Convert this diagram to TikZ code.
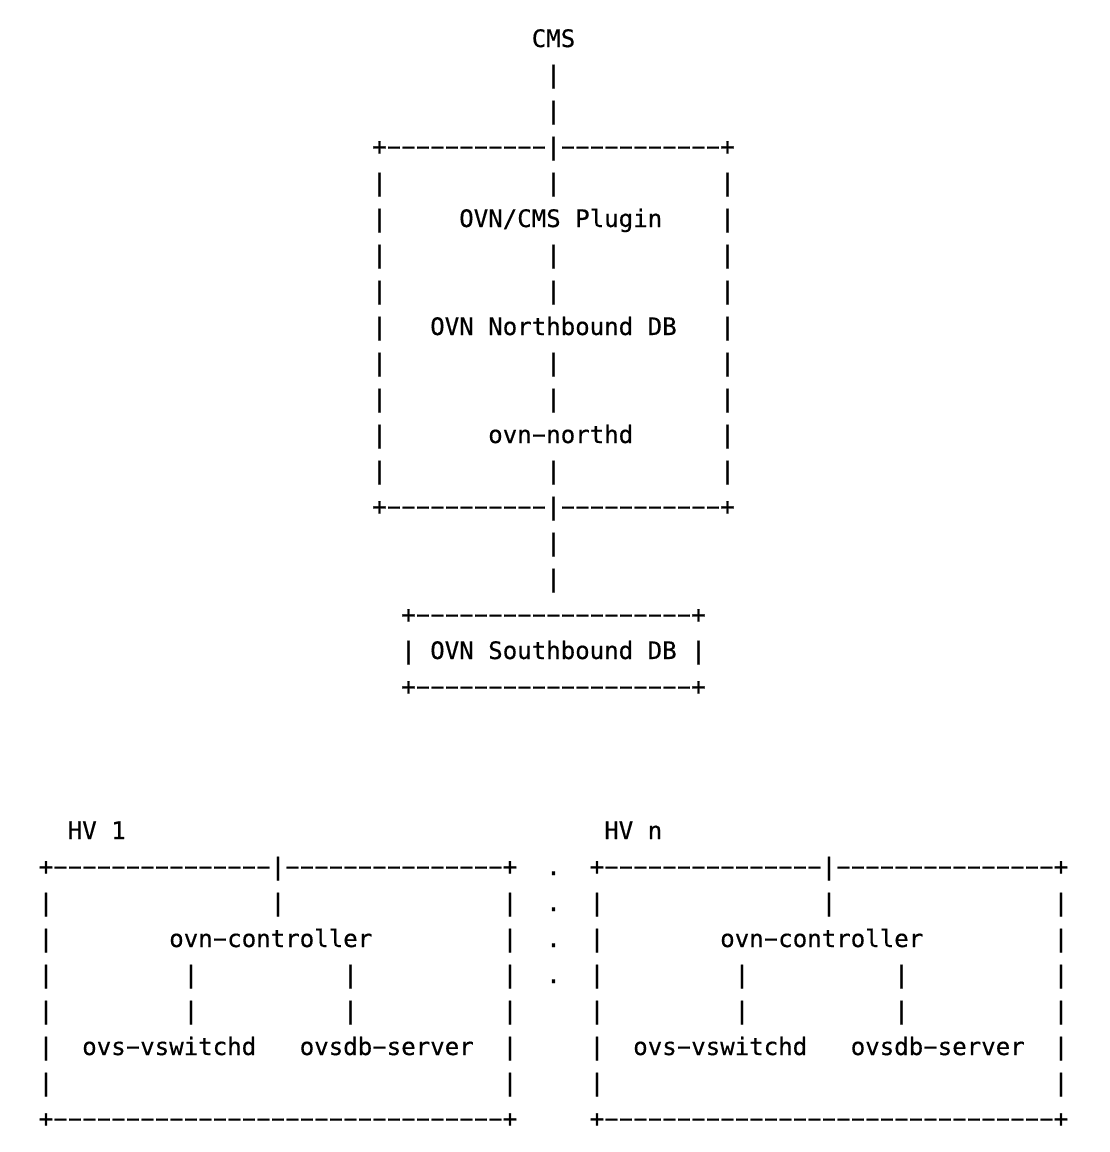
\documentclass[tikz,border=0pt]{standalone}
\usepackage{fontspec}
\setmonofont[FakeBold=0.4]{DejaVu Sans Mono}
\usepackage{graphicx}
\newcommand\hy{\makebox[14.5pt]{\raisebox{0.8pt}{\scalebox{1.9}[1]{-}}}}
\ExplSyntaxOn
\cs_new:Npn \dashes #1 { \prg_replicate:nn {#1} {\hy} }
\ExplSyntaxOff
\tikzset{
  asc/.style={font=\fontsize{24.08pt}{36pt}\ttfamily, anchor=base west, inner sep=0pt, outer sep=0pt, text=black},
}
\newcommand\bars[2]{\foreach \c in {#2} {\node[asc] (bar-\c-#1) at (\c,#1) {|};}}
\begin{document}
\begin{tikzpicture}[x=14.5pt,y=-36pt]
\fill[white] (0pt,0pt) rectangle (1110pt,-1152pt);
\useasboundingbox (0pt,0pt) rectangle (1110pt,-1152pt);
\begin{scope}[shift={(38.75pt,-47pt)}]
% CMS and central box
\node[asc] (cms) at (34,0) {CMS};
\bars{1}{35}
\bars{2}{35}
\node[asc] (nbtop) at (23,3) {+\dashes{11}|\dashes{11}+};
\bars{4}{23,35,47}
\bars{5}{23,47}
\node[asc] (plugin) at (29,5) {OVN/CMS Plugin};
\bars{6}{23,35,47}
\bars{7}{23,35,47}
\bars{8}{23,47}
\node[asc] (nbdb) at (27,8) {OVN Northbound DB};
\bars{9}{23,35,47}
\bars{10}{23,35,47}
\bars{11}{23,47}
\node[asc] (northd) at (31,11) {ovn\hy northd};
\bars{12}{23,35,47}
\node[asc] (nbbot) at (23,13) {+\dashes{11}|\dashes{11}+};
\bars{14}{35}
\bars{15}{35}
% Southbound DB
\node[asc] (sbtop) at (25,16) {+\dashes{19}+};
\bars{17}{25,45}
\node[asc] (sbdb) at (27,17) {OVN Southbound DB};
\node[asc] (sbbot) at (25,18) {+\dashes{19}+};
% Hypervisors
\node[asc] (hv1) at (2,22) {HV 1};
\node[asc] (hvn) at (39,22) {HV n};
\node[asc] (hv1top) at (0,23) {+\dashes{15}|\dashes{15}+};
\node[asc] (hvntop) at (38,23) {+\dashes{15}|\dashes{15}+};
\foreach \r in {23,24,25,26} {\node[asc] (dot-\r) at (35,\r) {.};}
\bars{24}{0,16,32,38,54,70}
\bars{25}{0,32,38,70}
\node[asc] (ctl1) at (9,25) {ovn\hy controller};
\node[asc] (ctln) at (47,25) {ovn\hy controller};
\bars{26}{0,10,21,32,38,48,59,70}
\bars{27}{0,10,21,32,38,48,59,70}
\bars{28}{0,32,38,70}
\node[asc] (vsw1) at (3,28) {ovs\hy vswitchd};
\node[asc] (odb1) at (18,28) {ovsdb\hy server};
\node[asc] (vswn) at (41,28) {ovs\hy vswitchd};
\node[asc] (odbn) at (56,28) {ovsdb\hy server};
\bars{29}{0,32,38,70}
\node[asc] (hv1bot) at (0,30) {+\dashes{31}+};
\node[asc] (hvnbot) at (38,30) {+\dashes{31}+};
\end{scope}
\end{tikzpicture}
\end{document}
